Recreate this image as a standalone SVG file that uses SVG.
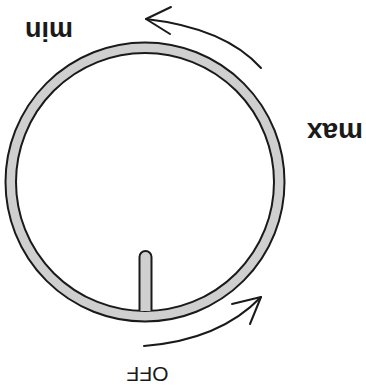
<svg xmlns="http://www.w3.org/2000/svg" width="366" height="389" viewBox="0 0 366 389">
<style>
.lbl{font-family:"Liberation Sans",Arial,sans-serif;fill:#1a1a1a}
.b{font-weight:bold}
.arr{fill:none;stroke:#1a1a1a;stroke-width:2;stroke-linecap:round;stroke-linejoin:round}
</style>
<rect width="366" height="389" fill="#fff"/>
<g id="dial">
<circle cx="145" cy="182" r="139.5" fill="#cfcfcf" stroke="#1a1a1a" stroke-width="2"/>
<circle cx="145" cy="182" r="129" fill="#fff" stroke="#1a1a1a" stroke-width="2"/>
</g>
<g id="pointer">
<path d="M139.5,311 V257 A6,6 0 0 1 151.5,257 V311" fill="#cfcfcf" stroke="#1a1a1a" stroke-width="2"/>
</g>
<g id="connectors">
<path class="arr" d="M261,68 Q225,28 146,19"/>
<path class="arr" d="M171,7 L146,19 L170,34"/>
<path class="arr" d="M144,346 Q220,340 261,297"/>
<path class="arr" d="M232,304 L261,297 L250,324"/>
</g>
<g id="label-min"><text class="lbl b" font-size="27" text-anchor="middle" transform="translate(49,22) rotate(180)">min</text></g>
<g id="label-max"><text class="lbl b" font-size="28" text-anchor="middle" transform="translate(335,123) rotate(180)">max</text></g>
<g id="label-off"><text class="lbl" font-size="21" text-anchor="middle" transform="translate(147.5,367) rotate(180)">OFF</text></g>
</svg>
